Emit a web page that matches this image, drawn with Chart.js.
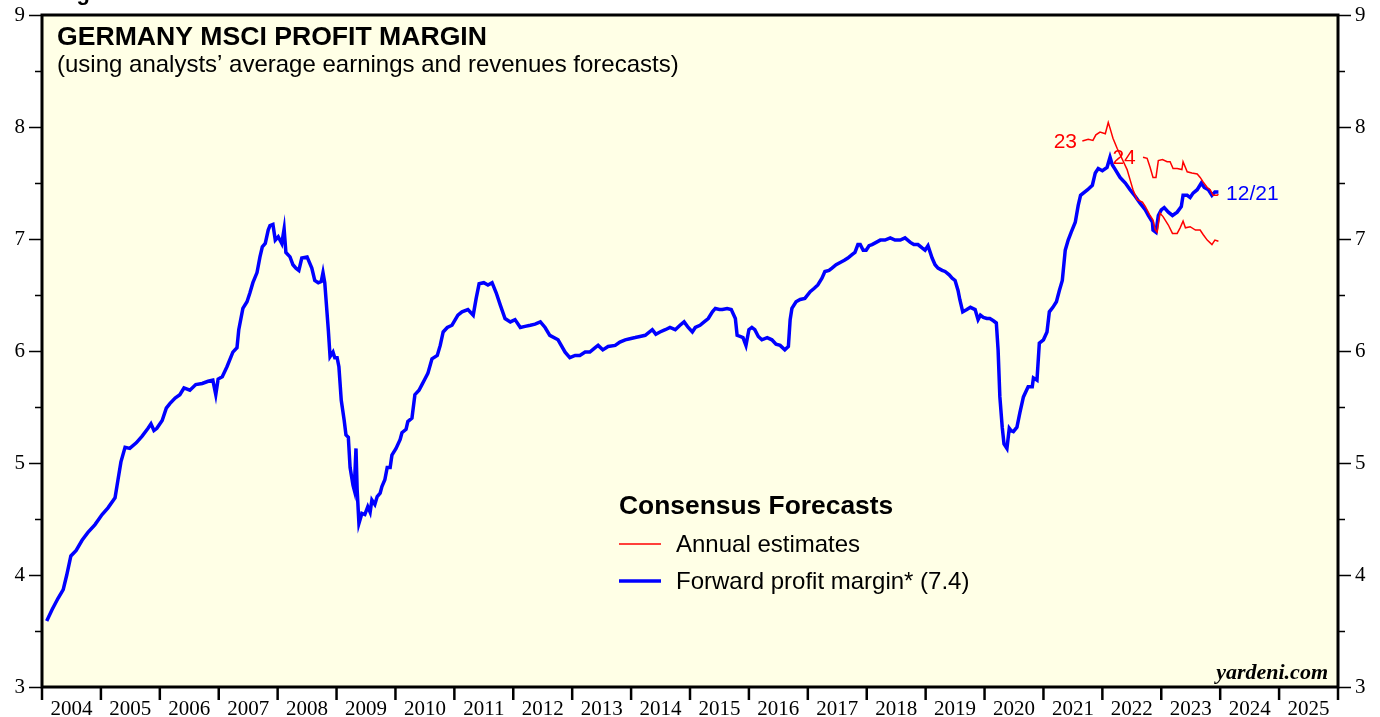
<!DOCTYPE html>
<html>
<head>
<meta charset="utf-8">
<script src="https://cdn.jsdelivr.net/npm/chart.js@4"></script>
<style>
  html, body { margin: 0; padding: 0; background: #ffffff; }
  #wrap { width: 1380px; height: 717px; }
</style>
</head>
<body>
<div id="wrap"><canvas id="graficoMargen" width="1380" height="717"></canvas></div>
<script>
// ====================
// Data (decimal years, percent)
// ====================
const yearLabels = ["2004", "2005", "2006", "2007", "2008", "2009", "2010", "2011", "2012", "2013", "2014",
                    "2015", "2016", "2017", "2018", "2019", "2020", "2021", "2022", "2023", "2024", "2025"];
const yTicks = [3, 4, 5, 6, 7, 8, 9];

// forward profit margin (weekly, blue)
const fwdDates = [
  2004.08,2004.17,2004.27,2004.36,2004.42,2004.49,2004.58,2004.68,2004.78,2004.90,
  2005.02,2005.12,2005.24,2005.29,2005.34,2005.41,2005.49,2005.60,2005.70,2005.80,
  2005.85,2005.90,2005.95,2006.04,2006.11,2006.17,2006.26,2006.34,2006.41,2006.51,
  2006.61,2006.72,2006.82,2006.90,2006.95,2006.99,2007.06,2007.14,2007.24,2007.31,
  2007.34,2007.41,2007.48,2007.53,2007.58,2007.65,2007.70,2007.74,2007.79,2007.84,
  2007.87,2007.92,2007.96,2008.01,2008.07,2008.11,2008.14,2008.21,2008.26,2008.31,
  2008.36,2008.41,2008.50,2008.58,2008.63,2008.69,2008.74,2008.77,2008.80,2008.86,
  2008.89,2008.94,2008.97,2009.01,2009.04,2009.08,2009.13,2009.16,2009.20,2009.23,
  2009.28,2009.30,2009.33,2009.35,2009.38,2009.43,2009.48,2009.53,2009.57,2009.60,
  2009.65,2009.69,2009.74,2009.77,2009.82,2009.86,2009.91,2009.94,2010.01,2010.08,
  2010.11,2010.18,2010.21,2010.28,2010.33,2010.40,2010.45,2010.50,2010.55,2010.62,
  2010.71,2010.76,2010.81,2010.88,2010.96,2011.06,2011.13,2011.23,2011.32,2011.37,
  2011.42,2011.50,2011.57,2011.64,2011.71,2011.78,2011.86,2011.95,2012.03,2012.12,
  2012.20,2012.29,2012.37,2012.46,2012.54,2012.62,2012.76,2012.88,2012.96,2013.05,
  2013.13,2013.22,2013.30,2013.39,2013.44,2013.52,2013.61,2013.73,2013.81,2013.90,
  2013.98,2014.07,2014.15,2014.24,2014.36,2014.42,2014.49,2014.58,2014.66,2014.75,
  2014.83,2014.90,2014.97,2015.04,2015.09,2015.17,2015.24,2015.31,2015.38,2015.43,
  2015.50,2015.55,2015.63,2015.70,2015.77,2015.80,2015.85,2015.90,2015.95,2016.00,
  2016.05,2016.10,2016.16,2016.22,2016.31,2016.39,2016.46,2016.53,2016.61,2016.67,
  2016.70,2016.73,2016.80,2016.87,2016.95,2017.04,2017.11,2017.17,2017.24,2017.29,
  2017.36,2017.41,2017.48,2017.55,2017.62,2017.68,2017.75,2017.80,2017.85,2017.89,
  2017.94,2017.99,2018.04,2018.09,2018.16,2018.23,2018.31,2018.40,2018.48,2018.57,
  2018.65,2018.74,2018.80,2018.87,2018.94,2018.99,2019.04,2019.11,2019.16,2019.21,
  2019.28,2019.33,2019.40,2019.45,2019.50,2019.55,2019.58,2019.63,2019.70,2019.76,
  2019.84,2019.89,2019.93,2019.98,2020.04,2020.09,2020.15,2020.20,2020.23,2020.26,
  2020.30,2020.33,2020.38,2020.42,2020.45,2020.49,2020.55,2020.60,2020.66,2020.74,
  2020.81,2020.83,2020.89,2020.93,2021.00,2021.06,2021.10,2021.16,2021.22,2021.27,
  2021.32,2021.37,2021.42,2021.47,2021.54,2021.59,2021.63,2021.75,2021.83,2021.88,
  2021.93,2022.00,2022.08,2022.13,2022.17,2022.22,2022.30,2022.39,2022.47,2022.56,
  2022.64,2022.73,2022.78,2022.85,2022.86,2022.91,2022.95,2023.00,2023.05,2023.12,
  2023.19,2023.27,2023.34,2023.37,2023.44,2023.49,2023.54,2023.61,2023.68,2023.73,
  2023.80,2023.86,2023.91,2023.97
];
const fwdMargin = [
  3.59,3.69,3.79,3.87,4.00,4.17,4.22,4.31,4.38,4.45,
  4.54,4.60,4.69,4.85,5.01,5.14,5.13,5.18,5.24,5.31,
  5.35,5.29,5.31,5.38,5.49,5.53,5.58,5.61,5.67,5.65,
  5.70,5.71,5.73,5.74,5.61,5.75,5.77,5.86,5.99,6.03,
  6.19,6.38,6.44,6.52,6.61,6.70,6.84,6.93,6.96,7.08,
  7.12,7.13,6.99,7.02,6.96,7.09,6.88,6.84,6.77,6.74,
  6.72,6.83,6.84,6.74,6.63,6.61,6.62,6.70,6.61,6.19,
  5.95,5.99,5.94,5.94,5.86,5.56,5.38,5.25,5.23,4.96,
  4.80,4.76,5.13,4.76,4.46,4.55,4.54,4.61,4.56,4.67,
  4.63,4.70,4.73,4.79,4.85,4.96,4.96,5.07,5.13,5.21,
  5.27,5.30,5.37,5.40,5.61,5.65,5.70,5.75,5.80,5.93,
  5.96,6.05,6.17,6.21,6.23,6.32,6.35,6.37,6.32,6.47,
  6.60,6.61,6.59,6.61,6.52,6.41,6.29,6.26,6.28,6.21,
  6.22,6.23,6.24,6.26,6.21,6.14,6.10,5.99,5.94,5.96,
  5.96,5.99,5.99,6.03,6.05,6.01,6.04,6.05,6.08,6.10,
  6.11,6.12,6.13,6.14,6.19,6.15,6.17,6.19,6.21,6.19,
  6.23,6.26,6.21,6.17,6.21,6.23,6.26,6.29,6.35,6.38,
  6.37,6.37,6.38,6.37,6.29,6.14,6.13,6.12,6.05,6.19,
  6.21,6.19,6.13,6.10,6.12,6.10,6.06,6.05,6.01,6.04,
  6.28,6.38,6.44,6.46,6.47,6.53,6.56,6.59,6.65,6.71,
  6.72,6.74,6.77,6.79,6.81,6.83,6.86,6.88,6.95,6.95,
  6.90,6.90,6.94,6.95,6.97,6.99,6.99,7.01,6.99,6.99,
  7.01,6.97,6.95,6.95,6.92,6.90,6.94,6.83,6.77,6.74,
  6.72,6.71,6.68,6.65,6.63,6.54,6.46,6.35,6.37,6.39,
  6.37,6.28,6.32,6.30,6.29,6.29,6.27,6.25,6.01,5.59,
  5.32,5.17,5.13,5.31,5.29,5.28,5.32,5.45,5.59,5.68,
  5.68,5.76,5.74,6.07,6.10,6.17,6.35,6.39,6.44,6.54,
  6.63,6.90,6.99,7.06,7.15,7.30,7.39,7.44,7.48,7.59,
  7.63,7.61,7.64,7.73,7.66,7.62,7.55,7.50,7.44,7.38,
  7.32,7.26,7.21,7.15,7.08,7.06,7.21,7.26,7.28,7.24,
  7.21,7.24,7.29,7.39,7.39,7.37,7.41,7.44,7.50,7.46,
  7.44,7.39,7.42,7.42
];

// annual estimates (red)
const est23Dates = [2021.66,2021.76,2021.84,2021.89,2021.96,2022.05,2022.10,2022.13,2022.18,2022.25,
                    2022.34,2022.42,2022.47,2022.52,2022.59,2022.68,2022.73,2022.81,2022.86,2022.90,
                    2022.93,2022.98,2023.03,2023.12,2023.19,2023.27,2023.32,2023.37,2023.41,2023.49,
                    2023.58,2023.66,2023.71,2023.78,2023.86,2023.91,2023.97];
const est23Values = [7.875,7.89,7.88,7.93,7.955,7.94,8.04,7.99,7.90,7.81,
                     7.71,7.62,7.53,7.44,7.35,7.33,7.29,7.21,7.17,7.08,
                     7.06,7.23,7.20,7.125,7.05,7.05,7.10,7.16,7.10,7.11,
                     7.08,7.08,7.04,6.99,6.95,6.99,6.98];
const est24Dates = [2022.69,2022.76,2022.81,2022.86,2022.91,2022.95,2023.02,2023.10,2023.15,2023.20,
                    2023.27,2023.35,2023.37,2023.44,2023.52,2023.61,2023.66,2023.71,2023.78,2023.83,
                    2023.88,2023.95,2023.97];
const est24Values = [7.73,7.72,7.64,7.55,7.55,7.70,7.71,7.69,7.69,7.63,
                     7.63,7.62,7.69,7.60,7.59,7.58,7.55,7.51,7.46,7.44,
                     7.39,7.39,7.40];

const toPoints = (xs, ys) => xs.map((x, i) => ({ x: x, y: ys[i] }));

const SANS = "'Liberation Sans', Arial, sans-serif";
const SERIF = "'Liberation Serif', 'Times New Roman', serif";

// ====================
// Background, frame, axes, texts
// ====================
const decoraciones = {
    id: "decoraciones",
    beforeDraw(chart) {
        const ctx = chart.ctx, a = chart.chartArea;
        ctx.save();
        ctx.fillStyle = "#ffffff";
        ctx.fillRect(0, 0, chart.width, chart.height);
        ctx.fillStyle = "#ffffe6";
        ctx.fillRect(a.left, a.top, a.right - a.left, a.bottom - a.top);
        ctx.restore();
    },
    afterDatasetsDraw(chart) {
        const ctx = chart.ctx, a = chart.chartArea;
        const xs = chart.scales.x, ys = chart.scales.y;
        ctx.save();

        // y ticks, both sides
        ctx.strokeStyle = "#000";
        ctx.lineWidth = 1.5;
        for (let v = 3; v <= 9; v += 0.5) {
            const py = Math.round(ys.getPixelForValue(v)) + 0.5;
            const len = Number.isInteger(v) ? 13 : 7;
            ctx.beginPath();
            ctx.moveTo(a.left - len, py); ctx.lineTo(a.left, py);
            ctx.moveTo(a.right, py); ctx.lineTo(a.right + len, py);
            ctx.stroke();
        }
        ctx.fillStyle = "#000";
        ctx.font = "21px " + SERIF;
        ctx.textBaseline = "middle";
        yTicks.forEach(v => {
            const py = ys.getPixelForValue(v);
            ctx.textAlign = "right";
            ctx.fillText(String(v), a.left - 17, py);
            ctx.textAlign = "left";
            ctx.fillText(String(v), a.right + 17, py);
        });

        // x ticks at year boundaries, labels between
        ctx.lineWidth = 2.5;
        for (let i = 0; i <= yearLabels.length; i++) {
            const px = xs.getPixelForValue(2004 + i);
            ctx.beginPath();
            ctx.moveTo(px, a.bottom); ctx.lineTo(px, a.bottom + 13);
            ctx.stroke();
        }
        ctx.font = "21px " + SERIF;
        ctx.textAlign = "center";
        ctx.textBaseline = "alphabetic";
        yearLabels.forEach((lab, i) => {
            ctx.fillText(lab, xs.getPixelForValue(2004 + i + 0.5), a.bottom + 28);
        });

        // frame
        ctx.lineWidth = 3;
        ctx.strokeRect(a.left, a.top, a.right - a.left, a.bottom - a.top);

        // titles
        ctx.textAlign = "left";
        ctx.fillStyle = "#000";
        ctx.font = "bold 22px " + SANS;
        ctx.fillText("Figure", 57, 0);
        ctx.font = "bold 26.6px " + SANS;
        ctx.fillText("GERMANY MSCI PROFIT MARGIN", 57, 45);
        ctx.font = "24px " + SANS;
        ctx.fillText("(using analysts\u2019 average earnings and revenues forecasts)", 57, 72);

        // legend
        ctx.font = "bold 26.4px " + SANS;
        ctx.fillText("Consensus Forecasts", 619, 514);
        ctx.font = "24px " + SANS;
        ctx.fillText("Annual estimates", 676, 552);
        ctx.fillText("Forward profit margin* (7.4)", 676, 589);
        ctx.strokeStyle = "#ff0000"; ctx.lineWidth = 1.5;
        ctx.beginPath(); ctx.moveTo(619, 544); ctx.lineTo(661, 544); ctx.stroke();
        ctx.strokeStyle = "#0000ff"; ctx.lineWidth = 3.5;
        ctx.beginPath(); ctx.moveTo(619, 581); ctx.lineTo(661, 581); ctx.stroke();

        // series labels
        ctx.textBaseline = "middle";
        ctx.font = "21px " + SANS;
        ctx.fillStyle = "#ff0000";
        ctx.textAlign = "right";
        ctx.fillText("23", xs.getPixelForValue(2021.57), ys.getPixelForValue(7.86));
        ctx.textAlign = "left";
        ctx.fillText("24", xs.getPixelForValue(2022.17), ys.getPixelForValue(7.72));
        ctx.fillStyle = "#0000ff";
        ctx.fillText("12/21", xs.getPixelForValue(2024.10), ys.getPixelForValue(7.40));

        // source
        ctx.fillStyle = "#000";
        ctx.textAlign = "right";
        ctx.textBaseline = "alphabetic";
        ctx.font = "italic bold 22px " + SERIF;
        ctx.fillText("yardeni.com", 1328, 679);

        ctx.restore();
    }
};

// ====================
// Chart
// ====================
const ctxMargen = document.getElementById("graficoMargen");
new Chart(ctxMargen, {
    type: "line",
    data: {
        datasets: [
            {
                label: "Forward profit margin* (7.4)",
                data: toPoints(fwdDates, fwdMargin),
                borderColor: "#0000ff",
                borderWidth: 3.5,
                pointRadius: 0,
                tension: 0,
                order: 2
            },
            {
                label: "Annual estimates 2023",
                data: toPoints(est23Dates, est23Values),
                borderColor: "#ff0000",
                borderWidth: 1.5,
                pointRadius: 0,
                tension: 0,
                order: 1
            },
            {
                label: "Annual estimates 2024",
                data: toPoints(est24Dates, est24Values),
                borderColor: "#ff0000",
                borderWidth: 1.5,
                pointRadius: 0,
                tension: 0,
                order: 1
            }
        ]
    },
    options: {
        responsive: false,
        animation: false,
        layout: { padding: { left: 42, top: 15, right: 42, bottom: 30 } },
        plugins: {
            legend: { display: false },
            tooltip: { enabled: false }
        },
        scales: {
            x: { type: "linear", min: 2004, max: 2026, display: false },
            y: { type: "linear", min: 3, max: 9, display: false }
        }
    },
    plugins: [decoraciones]
});
</script>
</body>
</html>
